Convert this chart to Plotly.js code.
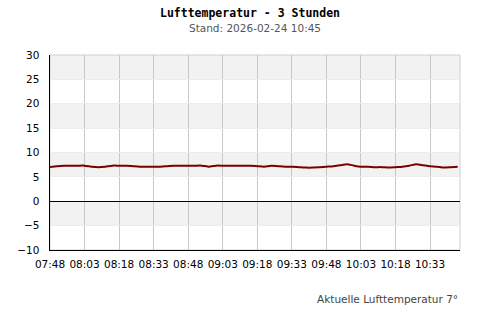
<!DOCTYPE html>
<html><head><meta charset="utf-8">
<script src="https://cdn.plot.ly/plotly-3.0.1.min.js"></script>
<style>html,body{margin:0;padding:0;background:#fff}#c{width:500px;height:320px}</style>
</head><body><div id="c"></div>
<script>
const times = ["07:48","07:51","07:54","07:57","08:00","08:03","08:06","08:09","08:12","08:15",
"08:18","08:21","08:24","08:27","08:30","08:33","08:36","08:39","08:42","08:45",
"08:48","08:51","08:54","08:57","09:00","09:03","09:06","09:09","09:12","09:15",
"09:18","09:21","09:24","09:27","09:30","09:33","09:36","09:39","09:42","09:45",
"09:48","09:51","09:54","09:57","10:00","10:03","10:06","10:09","10:12","10:15",
"10:18","10:21","10:24","10:27","10:30","10:33","10:36","10:39","10:42","10:45"];
const temps = [7.0,7.2,7.3,7.3,7.3,7.3,7.1,7.0,7.1,7.3,
7.3,7.3,7.2,7.1,7.1,7.1,7.1,7.2,7.3,7.3,
7.3,7.3,7.3,7.1,7.3,7.3,7.3,7.3,7.3,7.3,
7.2,7.1,7.3,7.2,7.1,7.1,7.0,6.9,6.9,7.0,
7.1,7.2,7.4,7.6,7.3,7.1,7.1,7.0,7.0,6.9,
7.0,7.1,7.3,7.6,7.4,7.2,7.1,6.9,7.0,7.1];
const tickLabels = ["07:48","08:03","08:18","08:33","08:48","09:03","09:18","09:33","09:48","10:03","10:18","10:33"];
const yTicks = [-10,-5,0,5,10,15,20,25,30];
const bands = [[25,30],[15,20],[5,10],[-5,0]];
const day = "2026-02-24 ";
const x = times.map(t => day + t);

const shapes = bands.map(b => ({type:'rect', xref:'paper', yref:'y', x0:0, x1:1, y0:b[0], y1:b[1],
  fillcolor:'#f2f2f2', line:{width:0}, layer:'below'}));
shapes.push({type:'rect', xref:'paper', yref:'paper', x0:0, x1:1, y0:0, y1:1, line:{color:'#d0d0d0', width:1}, layer:'below'});

Plotly.newPlot('c', [{
  x: x, y: temps, type:'scatter', mode:'lines',
  line:{color:'#7a0000', width:2, shape:'spline', smoothing:0.6},
  hoverinfo:'skip'
}], {
  width:500, height:320,
  margin:{l:50, r:40, t:55, b:70},
  paper_bgcolor:'#fff', plot_bgcolor:'#fff',
  showlegend:false,
  font:{family:'DejaVu Sans', size:10.5, color:'#000'},
  title:{text:'<b>Lufttemperatur - 3 Stunden</b>', font:{family:'DejaVu Sans Mono', size:11.5, color:'#000'},
    x:0.5, xanchor:'center', y:1-13/320, yref:'container', yanchor:'middle'},
  annotations:[
    {text:'Stand: 2026-02-24 10:45', xref:'paper', yref:'paper', x:0.5, xanchor:'center',
     y:1+ (55-28)/195, yanchor:'middle', showarrow:false, font:{size:10.5, color:'#555'}},
    {text:'Aktuelle Lufttemperatur 7°', xref:'paper', yref:'paper', x:1, xanchor:'right',
     y:-(299-250)/195, yanchor:'middle', showarrow:false, font:{size:10.5, color:'#444'}}
  ],
  shapes: shapes,
  xaxis:{type:'date', range:[day+'07:48', day+'10:46'],
    tickvals: tickLabels.map(t => day + t), ticktext: tickLabels,
    showgrid:true, gridcolor:'#c8c8c8', gridwidth:1,
    showline:true, linecolor:'#000', linewidth:1.2,
    ticks:'outside', ticklen:4, tickcolor:'rgba(0,0,0,0)',
    tickfont:{size:10.5, color:'#000'}, zeroline:false, fixedrange:true},
  yaxis:{range:[-10,30], tickvals:yTicks,
    showgrid:true, gridcolor:'#ececec', gridwidth:1,
    zeroline:true, zerolinecolor:'#000', zerolinewidth:1.2,
    showline:true, linecolor:'#000', linewidth:1.5,
    ticks:'outside', ticklen:7, tickcolor:'rgba(0,0,0,0)',
    tickfont:{size:10.5, color:'#000'}, fixedrange:true}
}, {staticPlot:true});
</script></body></html>
